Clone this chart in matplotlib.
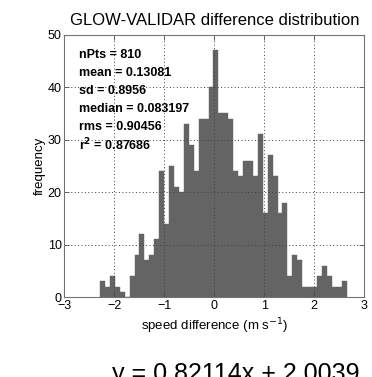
import numpy as np
import matplotlib
matplotlib.use('Agg')
import matplotlib.pyplot as plt

plt.rcParams['font.family'] = ['Liberation Sans', 'DejaVu Sans']

# histogram counts (50 bins)
counts = [3, 2, 4, 2, 1, 0, 4, 8, 12, 7, 8, 11, 24, 14, 25, 21, 20,
          33, 29, 24, 34, 34, 40, 47, 35, 35, 34, 24, 23, 26, 26, 23, 31, 16,
          27, 23, 16, 18, 4, 8, 7, 2, 2, 2, 4, 6, 4, 2, 2, 3]
bin_lo = -2.286
bin_hi = 2.647

stat_lines = ['nPts = 810', 'mean = 0.13081', 'sd = 0.8956',
              'median = 0.083197', 'rms = 0.90456', r'r$^{\mathbf{2}}$ = 0.87686']
fit_text = 'y = 0.82114x + 2.0039'

edges = np.linspace(bin_lo, bin_hi, len(counts) + 1)
width = edges[1] - edges[0]

fig = plt.figure(figsize=(3.72, 3.77), dpi=100)
ax = fig.add_axes([0.173, 0.2117, 0.806, 0.6963])

ax.bar(edges[:-1], counts, width=width, align='edge', color='#646464',
       edgecolor='#646464', linewidth=0.3, zorder=2)

ax.set_xlim(-3, 3)
ax.set_ylim(0, 50)
ax.set_xticks(range(-3, 4))
ax.set_yticks(range(0, 51, 10))
ax.grid(True, linestyle=(0, (1, 2.5)), color='0.25', linewidth=0.7, zorder=3)
ax.set_axisbelow(False)
ax.tick_params(direction='in', length=3.5, width=0.6, top=True, right=True,
               labelsize=9, color='0.3', pad=2)
for s in ax.spines.values():
    s.set_color('0.45')
    s.set_linewidth(0.8)
    s.set_zorder(4)

ax.set_title('GLOW-VALIDAR difference distribution', fontsize=12, pad=7)
ax.set_xlabel(r'speed difference (m s$^{-1}$)', fontsize=9.5, labelpad=3)
ax.set_ylabel('frequency', fontsize=9.5, labelpad=1)

for i, line in enumerate(stat_lines):
    ax.text(0.049, 0.923 - i * 0.0686, line, transform=ax.transAxes,
            fontsize=9, fontweight='bold', va='center', ha='left', zorder=5)

fig.text(0.634, 0.04, fit_text, fontsize=18, ha='center', va='top')

fig.savefig('out.png', dpi=100)
